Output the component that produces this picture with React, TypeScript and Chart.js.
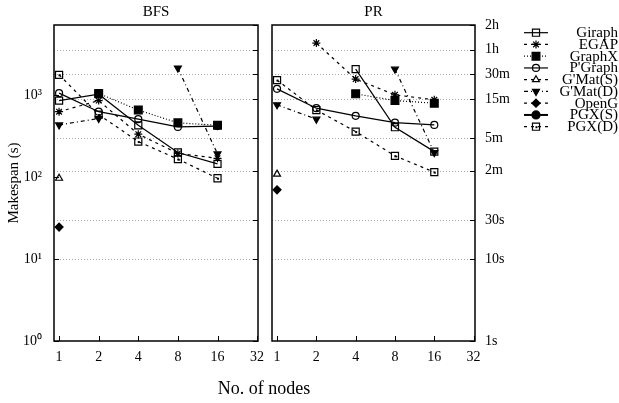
import React, { useEffect, useRef } from 'react';
import { Chart, registerables } from 'chart.js';
import { drawPoint } from 'chart.js/helpers';

Chart.register(...registerables);

// ---------- data ----------
const nodeCounts = [1, 2, 4, 8, 16];
const xTickValues = [1, 2, 4, 8, 16, 32];
const seriesLabels = ['Giraph', 'EGAP', 'GraphX', "P'Graph", "G'Mat(S)", "G'Mat(D)", 'OpenG', 'PGX(S)', 'PGX(D)'];

// BFS makespan (seconds)
const bfsGiraph = [860, 1030, 430, 200, 145];
const bfsEGAP = [630, 860, 335, 195, 170];
const bfsGraphX = [null, 1050, 660, 460, 430];
const bfsPGraph = [1060, 630, 510, 410, 420];
const bfsGMatS = [97, null, null, null, null];
const bfsGMatD = [434, 520, null, 2145, 192];
const bfsOpenG = [24.6, null, null, null, null];
const bfsPGXS = [null, null, null, null, null];
const bfsPGXD = [1775, 580, 272, 166, 97];

// PR makespan (seconds)
const prGiraph = [null, null, 2080, 407, 205];
const prEGAP = [null, 4335, 1574, 1012, 879];
const prGraphX = [null, null, 1040, 861, 800];
const prPGraph = [1197, 695, 560, 463, 434];
const prGMatS = [109, null, null, null, null];
const prGMatD = [764, 510, null, 2083, 199];
const prOpenG = [70, null, null, null, null];
const prPGXS = [null, null, null, null, null];
const prPGXD = [1530, 660, 360, 182, 115];

const leftTickValues = [1, 10, 100, 1000];
const leftTickLabels = ['10\u2070', '10\u00B9', '10\u00B2', '10\u00B3'];
const timeTickValues = [1, 10, 30, 120, 300, 900, 1800, 3600, 7200];
const timeTickLabels = ['1s', '10s', '30s', '2m', '5m', '15m', '30m', '1h', '2h'];
const gridValues = [10, 30, 120, 300, 900, 1800, 3600];

// ---------- styles ----------
const FONT = "'Liberation Serif', 'Times New Roman', serif";
const seriesDash = [[], [3, 4], [1, 2], [], [3, 4], [4, 3, 1, 3], [3, 4], [], [3, 4]];
const seriesLineWidth = [1.2, 1.2, 1.2, 1.2, 1.2, 1.2, 1.2, 2, 1.2];
const seriesPointStyle = ['rect', 'star', 'rect', 'circle', 'triangle', 'triangle', 'rectRot', 'circle', 'rect'];
const seriesPointRadius = [5, 4, 5.5, 3.5, 4, 4, 4, 4, 5];
const seriesFilled = [false, false, true, false, false, true, true, true, false];
const seriesRotation = [0, 0, 0, 0, 0, 180, 0, 0, 0];
const seriesInnerDot = [false, false, false, false, false, false, false, false, true];

function makeDatasets(values: (number | null)[][]) {
  return values.map((vals, i) => ({
    label: seriesLabels[i],
    data: nodeCounts.map((n, j) => ({ x: n, y: vals[j] })),
    borderColor: '#000',
    backgroundColor: seriesFilled[i] ? '#000' : 'rgba(0,0,0,0)',
    borderWidth: seriesLineWidth[i],
    borderDash: seriesDash[i],
    pointStyle: seriesPointStyle[i],
    pointRadius: seriesPointRadius[i],
    pointRotation: seriesRotation[i],
    pointBorderWidth: 1.2,
    pointBorderColor: '#000',
    pointBackgroundColor: seriesFilled[i] ? '#000' : 'rgba(0,0,0,0)',
    fill: false,
    tension: 0,
    spanGaps: false,
  }));
}

const framePlugin = {
  id: 'frame',
  beforeDatasetsDraw(chart: any) {
    const { ctx, chartArea: a, scales } = chart;
    const y = scales.y;
    ctx.save();
    ctx.strokeStyle = '#a8a8a8';
    ctx.lineWidth = 1;
    ctx.setLineDash([1, 2]);
    for (const v of gridValues) {
      const py = Math.round(y.getPixelForValue(v)) + 0.5;
      ctx.beginPath();
      ctx.moveTo(a.left, py);
      ctx.lineTo(a.right, py);
      ctx.stroke();
    }
    ctx.restore();
  },
  afterDatasetsDraw(chart: any, _a: any, opts: any) {
    const { ctx, chartArea: a, scales } = chart;
    const x = scales.x;
    const y = scales.y;
    ctx.save();
    // inner dots of PGX(D) markers
    ctx.fillStyle = '#000';
    chart.data.datasets.forEach((ds: any, i: number) => {
      if (!seriesInnerDot[i]) return;
      const meta = chart.getDatasetMeta(i);
      meta.data.forEach((pt: any, j: number) => {
        if (ds.data[j].y == null) return;
        ctx.fillRect(pt.x - 0.5, pt.y - 0.5, 2, 2);
      });
    });
    ctx.strokeStyle = '#000';
    ctx.setLineDash([]);
    ctx.lineWidth = 1;
    const tl = 5;
    for (const v of xTickValues) {
      const px = Math.round(x.getPixelForValue(v)) + 0.5;
      ctx.beginPath();
      ctx.moveTo(px, a.bottom);
      ctx.lineTo(px, a.bottom - tl);
      ctx.stroke();
    }
    for (const v of timeTickValues) {
      const py = Math.round(y.getPixelForValue(v)) + 0.5;
      ctx.beginPath();
      ctx.moveTo(a.right, py);
      ctx.lineTo(a.right - tl, py);
      ctx.stroke();
    }
    if (opts.leftTicks) {
      for (const v of leftTickValues) {
        const py = Math.round(y.getPixelForValue(v)) + 0.5;
        ctx.beginPath();
        ctx.moveTo(a.left, py);
        ctx.lineTo(a.left + tl, py);
        ctx.stroke();
      }
    }
    ctx.lineWidth = 1.5;
    ctx.strokeRect(a.left, a.top, a.right - a.left, a.bottom - a.top);
    // panel title
    ctx.fillStyle = '#000';
    ctx.font = `15px ${FONT}`;
    ctx.textAlign = 'center';
    ctx.textBaseline = 'middle';
    ctx.fillText(opts.title, (a.left + a.right) / 2, 12);
    if (opts.xTitle) {
      ctx.font = `18px ${FONT}`;
      ctx.fillText(opts.xTitle, 264, 389);
    }
    if (opts.legend) {
      ctx.font = `15px ${FONT}`;
      ctx.textAlign = 'right';
      chart.data.datasets.forEach((ds: any, i: number) => {
        const ly = 32.7 + i * 11.75;
        ctx.save();
        ctx.strokeStyle = '#000';
        ctx.lineWidth = ds.borderWidth;
        ctx.setLineDash(ds.borderDash);
        ctx.beginPath();
        ctx.moveTo(524, ly);
        ctx.lineTo(548, ly);
        ctx.stroke();
        ctx.setLineDash([]);
        ctx.lineWidth = ds.pointBorderWidth;
        ctx.fillStyle = ds.pointBackgroundColor;
        ctx.strokeStyle = '#000';
        drawPoint(ctx, {
          pointStyle: ds.pointStyle,
          radius: ds.pointRadius,
          rotation: ds.pointRotation,
          borderWidth: ds.pointBorderWidth,
        } as any, 536, ly);
        if (seriesInnerDot[i]) {
          ctx.fillStyle = '#000';
          ctx.fillRect(535.5, ly - 0.5, 2, 2);
        }
        ctx.restore();
        ctx.fillStyle = '#000';
        ctx.fillText(ds.label, 618, ly + 0.5);
      });
    }
    ctx.restore();
  },
};

function xScale(max: number) {
  return {
    type: 'logarithmic' as const,
    min: 0.915,
    max,
    afterBuildTicks: (s: any) => {
      s.ticks = xTickValues.map((v) => ({ value: v }));
    },
    afterFit: (s: any) => {
      s.height = 62;
    },
    ticks: {
      callback: (v: any) => String(v),
      font: { family: FONT, size: 14 },
      color: '#000',
      padding: 8,
      autoSkip: false,
      maxRotation: 0,
    },
    grid: { display: false, drawTicks: false },
    border: { display: false },
  };
}

function ChartPanel({ which }: { which: 'bfs' | 'pr' }) {
  const ref = useRef<HTMLCanvasElement>(null);
  useEffect(() => {
    const isBfs = which === 'bfs';
    const values = isBfs
      ? [bfsGiraph, bfsEGAP, bfsGraphX, bfsPGraph, bfsGMatS, bfsGMatD, bfsOpenG, bfsPGXS, bfsPGXD]
      : [prGiraph, prEGAP, prGraphX, prPGraph, prGMatS, prGMatD, prOpenG, prPGXS, prPGXD];
    const yScale: any = isBfs
      ? {
          type: 'logarithmic',
          position: 'left',
          min: 1,
          max: 7200,
          afterBuildTicks: (s: any) => {
            s.ticks = leftTickValues.map((v) => ({ value: v }));
          },
          afterFit: (s: any) => {
            s.width = 54;
          },
          ticks: {
            callback: (v: any) => leftTickLabels[leftTickValues.indexOf(Number(v))] ?? '',
            font: { family: FONT, size: 14 },
            color: '#000',
            padding: 12,
            autoSkip: false,
          },
          title: {
            display: true,
            text: 'Makespan (s)',
            font: { family: FONT, size: 15 },
            color: '#000',
            padding: { top: 5, bottom: 0 },
          },
          grid: { display: false, drawTicks: false },
          border: { display: false },
        }
      : {
          type: 'logarithmic',
          position: 'right',
          min: 1,
          max: 7200,
          afterBuildTicks: (s: any) => {
            s.ticks = timeTickValues.map((v) => ({ value: v }));
          },
          afterFit: (s: any) => {
            s.width = 144;
          },
          ticks: {
            callback: (v: any) => timeTickLabels[timeTickValues.indexOf(Number(v))] ?? '',
            font: { family: FONT, size: 14 },
            color: '#000',
            padding: 10,
            autoSkip: false,
          },
          grid: { display: false, drawTicks: false },
          border: { display: false },
        };
    const chart = new Chart(ref.current!, {
      type: 'line',
      data: { datasets: makeDatasets(values as any) as any },
      options: {
        responsive: false,
        animation: false,
        events: [],
        layout: {
          padding: isBfs
            ? { left: 0, right: 361, top: 25, bottom: 0 }
            : { left: 272, right: 0, top: 25, bottom: 0 },
        },
        scales: { x: xScale(isBfs ? 32.5 : 32.8) as any, y: yScale },
        plugins: {
          legend: { display: false },
          title: { display: false },
          tooltip: { enabled: false },
          frame: isBfs
            ? { title: 'BFS', xTitle: 'No. of nodes', leftTicks: true, legend: false }
            : { title: 'PR', xTitle: '', leftTicks: false, legend: true },
        } as any,
      },
      plugins: [framePlugin],
    });
    return () => chart.destroy();
  }, [which]);
  return (
    <canvas
      ref={ref}
      width={619}
      height={403}
      style={{ position: 'absolute', left: 0, top: 0, width: 619, height: 403 }}
    />
  );
}

export default function App() {
  return (
    <div style={{ position: 'fixed', left: 0, top: 0, width: 619, height: 403, background: '#fff' }}>
      <ChartPanel which="bfs" />
      <ChartPanel which="pr" />
    </div>
  );
}
